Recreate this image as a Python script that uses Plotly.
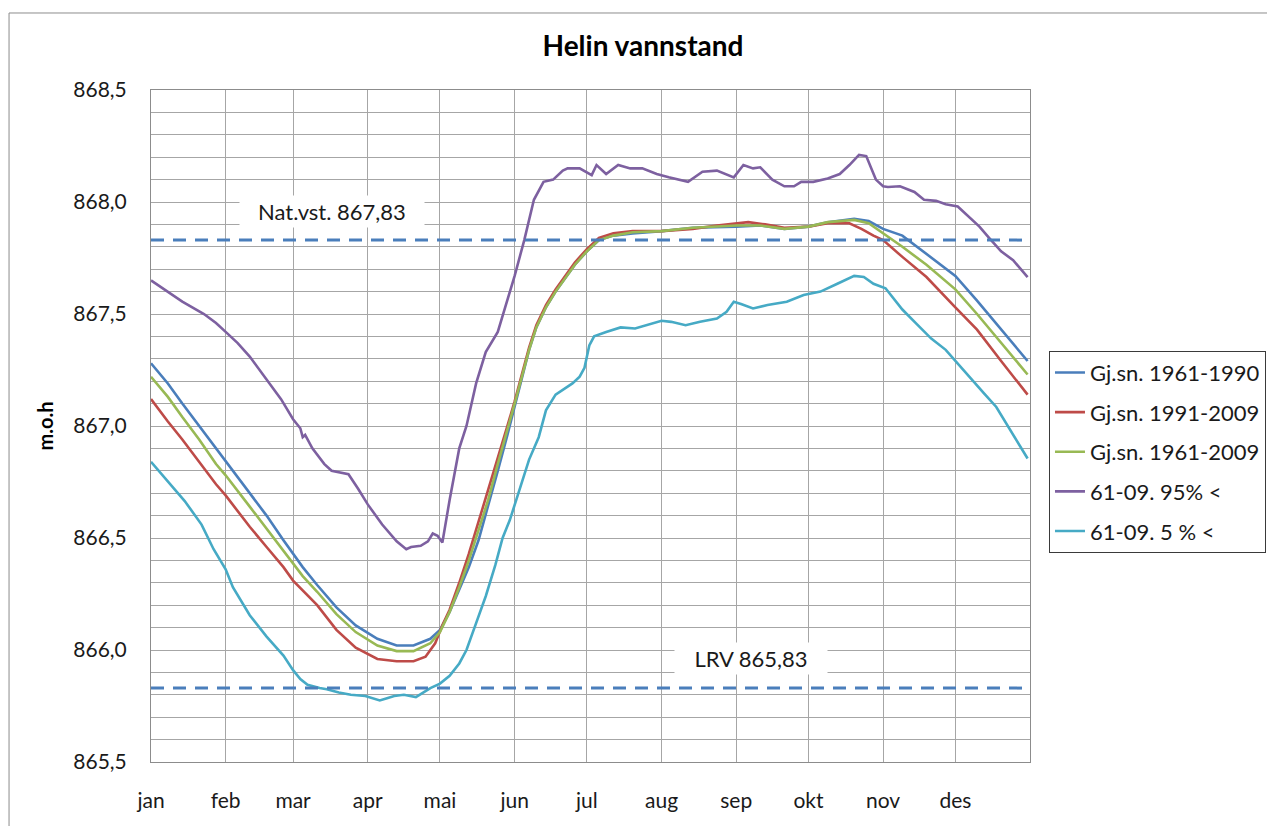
import plotly.graph_objects as go

# ---------------- data ----------------
month_start_days = [0, 31, 59, 90, 120, 151, 181, 212, 243, 273, 304, 334]
month_labels = ["jan", "feb", "mar", "apr", "mai", "jun", "jul", "aug", "sep", "okt", "nov", "des"]

nat_vst = 867.83
lrv = 865.83

days_blue = [0, 7, 13, 20, 27, 31, 41, 48, 55, 59, 63, 69, 77, 85, 94, 102, 109, 116, 120, 124, 128,
             132, 136, 140, 144, 148, 151, 154, 157, 160, 164, 168, 172, 176, 181, 186, 192, 200, 212,
             225, 243, 253, 263, 273, 281, 292, 298, 304, 312, 322, 334, 343, 353, 364]
gjsn_1961_1990 = [867.28, 867.19, 867.10, 867.00, 866.90, 866.84, 866.70, 866.60, 866.49, 866.43, 866.37,
                  866.29, 866.19, 866.11, 866.05, 866.02, 866.02, 866.05, 866.09, 866.17, 866.27, 866.37,
                  866.49, 866.64, 866.80, 866.96, 867.09, 867.22, 867.34, 867.44, 867.53, 867.60, 867.66,
                  867.72, 867.78, 867.83, 867.85, 867.86, 867.87, 867.885, 867.89, 867.895, 867.88, 867.89,
                  867.91, 867.925, 867.915, 867.88, 867.85, 867.77, 867.67, 867.56, 867.43, 867.29]

days_red = [0, 7, 13, 20, 27, 31, 41, 48, 55, 59, 69, 77, 85, 94, 102, 109, 114, 118, 121, 124, 128, 132,
            136, 140, 144, 148, 151, 154, 157, 160, 164, 168, 172, 176, 181, 186, 192, 200, 212, 218, 225,
            235, 243, 248, 255, 263, 273, 281, 290, 295, 300, 304, 312, 322, 334, 343, 353, 364]
gjsn_1991_2009 = [867.12, 867.02, 866.94, 866.84, 866.74, 866.69, 866.55, 866.46, 866.37, 866.31, 866.20,
                  866.09, 866.01, 865.96, 865.95, 865.95, 865.97, 866.03, 866.11, 866.18, 866.30, 866.43,
                  866.57, 866.71, 866.86, 867.00, 867.11, 867.23, 867.35, 867.45, 867.54, 867.61, 867.67,
                  867.73, 867.79, 867.84, 867.86, 867.87, 867.87, 867.875, 867.88, 867.895, 867.905, 867.91,
                  867.90, 867.885, 867.89, 867.905, 867.905, 867.88, 867.85, 867.83, 867.755, 867.665,
                  867.53, 867.43, 867.29, 867.14]

days_green = [0, 7, 13, 20, 27, 31, 41, 48, 55, 59, 63, 69, 77, 85, 94, 102, 109, 116, 120, 124, 128, 132,
              136, 140, 144, 148, 151, 154, 157, 160, 164, 168, 172, 176, 181, 186, 192, 200, 212, 225, 243,
              253, 263, 273, 281, 292, 298, 304, 312, 322, 334, 343, 353, 364]
gjsn_1961_2009 = [867.22, 867.13, 867.04, 866.94, 866.83, 866.78, 866.64, 866.54, 866.44, 866.385, 866.33,
                  866.26, 866.16, 866.08, 866.02, 865.995, 865.995, 866.03, 866.08, 866.17, 866.28, 866.40,
                  866.53, 866.67, 866.83, 866.98, 867.10, 867.22, 867.34, 867.44, 867.53, 867.60, 867.66,
                  867.72, 867.78, 867.83, 867.85, 867.865, 867.87, 867.885, 867.895, 867.895, 867.88,
                  867.89, 867.91, 867.92, 867.905, 867.86, 867.80, 867.72, 867.61, 867.50, 867.37, 867.23]

days_p95 = [0, 7, 13, 22, 27, 31, 36, 41, 48, 54, 59, 62, 63, 64, 67, 72, 75, 80, 82, 86, 90, 96, 102, 106,
            108, 112, 115, 117, 119, 121, 124, 128, 131, 135, 139, 144, 148, 151, 155, 159, 163, 167, 171,
            173, 178, 181, 183, 185, 189, 194, 199, 204, 210, 215, 223, 229, 235, 242, 246, 250, 253, 258,
            263, 267, 270, 275, 281, 286, 290, 294, 297, 301, 304, 306, 311, 317, 321, 326, 330, 335, 339,
            344, 348, 353, 358, 364]
p95 = [867.65, 867.60, 867.555, 867.50, 867.46, 867.42, 867.37, 867.31, 867.21, 867.12, 867.03, 866.99,
       866.95, 866.96, 866.90, 866.83, 866.80, 866.79, 866.785, 866.72, 866.65, 866.56, 866.485, 866.45,
       866.46, 866.465, 866.485, 866.52, 866.51, 866.48, 866.67, 866.90, 867.00, 867.19, 867.33, 867.42,
       867.56, 867.67, 867.83, 868.01, 868.09, 868.10, 868.14, 868.15, 868.15, 868.13, 868.12, 868.165,
       868.125, 868.165, 868.15, 868.15, 868.125, 868.11, 868.09, 868.135, 868.14, 868.11, 868.165, 868.15,
       868.155, 868.10, 868.07, 868.07, 868.09, 868.09, 868.105, 868.125, 868.165, 868.21, 868.205, 868.10,
       868.07, 868.067, 868.07, 868.045, 868.01, 868.005, 867.99, 867.98, 867.94, 867.89, 867.84, 867.78,
       867.74, 867.665]

days_p5 = [0, 7, 14, 21, 26, 31, 34, 41, 48, 55, 59, 62, 65, 70, 73, 78, 83, 89, 92, 95, 98, 101, 105, 107,
           110, 113, 116, 120, 124, 128, 131, 135, 139, 143, 146, 149, 153, 157, 161, 164, 168, 172, 175, 178,
           180, 182, 184, 189, 195, 201, 207, 212, 216, 222, 228, 235, 239, 242, 245, 250, 256, 264, 271, 278,
           285, 292, 296, 300, 305, 312, 318, 324, 330, 334, 340, 346, 351, 357, 364]
p5 = [866.84, 866.75, 866.665, 866.56, 866.45, 866.36, 866.28, 866.155, 866.06, 865.975, 865.91, 865.87,
      865.845, 865.83, 865.825, 865.81, 865.80, 865.795, 865.785, 865.775, 865.785, 865.795, 865.80, 865.795,
      865.79, 865.81, 865.83, 865.85, 865.885, 865.94, 866.00, 866.12, 866.24, 866.38, 866.50, 866.58,
      866.72, 866.85, 866.95, 867.07, 867.14, 867.17, 867.19, 867.22, 867.26, 867.36, 867.40, 867.42,
      867.44, 867.435, 867.455, 867.47, 867.465, 867.45, 867.465, 867.48, 867.51, 867.555, 867.545,
      867.525, 867.54, 867.555, 867.585, 867.60, 867.635, 867.67, 867.665, 867.635, 867.615, 867.52,
      867.455, 867.39, 867.34, 867.29, 867.22, 867.145, 867.085, 866.98, 866.855]

series = [
    ("Gj.sn. 1961-1990", days_blue, gjsn_1961_1990, "#4A7EBB"),
    ("Gj.sn. 1991-2009", days_red, gjsn_1991_2009, "#BE4B48"),
    ("Gj.sn. 1961-2009", days_green, gjsn_1961_2009, "#98B954"),
    ("61-09. 95% <", days_p95, p95, "#7D60A0"),
    ("61-09. 5 % <", days_p5, p5, "#46AAC5"),
]

FONT = "Lato, 'Open Sans', sans-serif"
GRID = "#A6A6A6"

fig = go.Figure()
for i, (name, d, v, c) in enumerate(series):
    fig.add_trace(go.Scatter(x=d, y=v, mode="lines", name=name, legendgroup=str(i),
                             line=dict(color=c, width=2.6)))

# reference lines (dashed)
for val in (nat_vst, lrv):
    fig.add_trace(go.Scatter(x=[0, 365], y=[val, val], mode="lines", showlegend=False,
                             hoverinfo="skip", line=dict(color="#4A7EBB", width=3, dash="13px,9px")))

fig.add_annotation(x=75.2, y=867.958, xref="x", yref="y", text="Nat.vst. 867,83", showarrow=False,
                   font=dict(family=FONT, size=22, color="#1a1a1a"), bgcolor="white",
                   width=182, height=29)
fig.add_annotation(x=249.2, y=865.964, xref="x", yref="y", text="LRV 865,83", showarrow=False,
                   font=dict(family=FONT, size=22, color="#1a1a1a"), bgcolor="white",
                   width=150, height=29)

# outer chart-area border
fig.add_shape(type="rect", xref="paper", yref="paper", x0=-0.1615, x1=1.4, y0=-0.2, y1=1.1146,
              line=dict(color="#8C8C8C", width=1), fillcolor="rgba(0,0,0,0)", layer="below")

fig.update_layout(
    width=1267, height=826,
    margin=dict(l=151, r=237, t=90, b=64, autoexpand=False),
    paper_bgcolor="white", plot_bgcolor="white",
    separators=", ",
    font=dict(family=FONT, color="#1a1a1a"),
    title=dict(text="<b>Helin vannstand</b>", x=643 / 1267, xref="container", xanchor="center",
               y=1 - 46 / 826, yref="container", yanchor="middle",
               font=dict(family=FONT, size=28, color="#000")),
    showlegend=True,
    legend=dict(x=1.0216, y=0.612, xanchor="left", yanchor="top", traceorder="grouped",
                tracegroupgap=8, bordercolor="#3a3a3a", borderwidth=1, bgcolor="white",
                font=dict(family=FONT, size=22, color="#1a1a1a"), itemwidth=30),
    xaxis=dict(range=[0, 365], tickmode="array", tickvals=month_start_days, ticktext=month_labels,
               showgrid=True, gridcolor=GRID, gridwidth=1, zeroline=False, automargin=False,
               showline=True, linecolor="#8C8C8C", linewidth=1, mirror=True,
               ticks="outside", ticklen=20, tickcolor="rgba(0,0,0,0)",
               tickfont=dict(family=FONT, size=21, color="#1a1a1a")),
    yaxis=dict(range=[865.5, 868.5], tick0=865.5, dtick=0.5, tickformat=".1f",
               showgrid=True, gridcolor=GRID, gridwidth=1, zeroline=False, automargin=False,
               minor=dict(dtick=0.1, showgrid=True, gridcolor=GRID, gridwidth=1),
               showline=True, linecolor="#8C8C8C", linewidth=1, mirror=True,
               ticks="outside", ticklen=19, tickcolor="rgba(0,0,0,0)",
               tickfont=dict(family=FONT, size=21, color="#1a1a1a"),
               title=dict(text="<b>m.o.h</b>", standoff=14,
                          font=dict(family=FONT, size=20, color="#000"))),
)

fig.write_html("out.html", config={"displayModeBar": False},
               post_script="document.body.style.margin='0';")
